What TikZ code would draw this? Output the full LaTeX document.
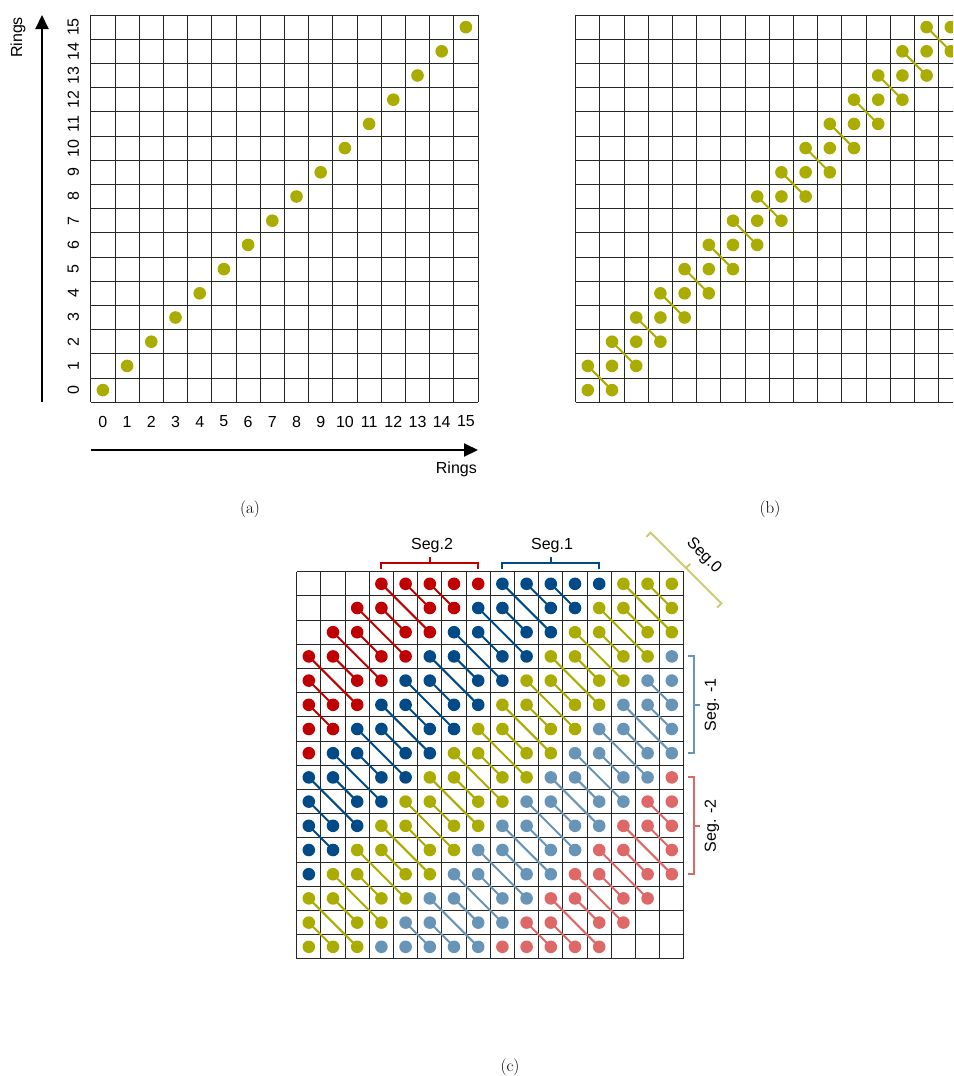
\documentclass[tikz,border=0pt]{standalone}
\usepackage{fontspec}
\newfontfamily\arial{Liberation Sans}
\usetikzlibrary{arrows.meta}
\definecolor{myolive}{RGB}{170,173,0}
\definecolor{sc0}{RGB}{192,0,0}
\definecolor{sc1}{RGB}{0,74,135}
\definecolor{sc2}{RGB}{170,173,0}
\definecolor{sc3}{RGB}{104,148,184}
\definecolor{sc4}{RGB}{222,104,104}
\definecolor{segzero}{RGB}{200,204,115}
\tikzset{
  gridline/.style={black!85, line width=1pt},
  link/.style={line width=2pt},
  axisarrow/.style={line width=2pt, -{Triangle[length=14pt,width=13pt]}},
  lab/.style={font=\arial\fontsize{16}{19}\selectfont, inner sep=0pt},
  brk/.style={line width=2pt},
  captext/.style={font=\fontsize{17}{20}\selectfont, inner sep=0pt}
}
\newcommand\cellgrid[2]{%
  \foreach \i in {0,...,16}{%
    \draw[gridline] ({#1+\i*24.2},#2) -- ({#1+\i*24.2},{#2+387.2});
    \draw[gridline] (#1,{#2+\i*24.2}) -- ({#1+387.2},{#2+\i*24.2});
  }}
\begin{document}
\begin{tikzpicture}[x=1pt,y=-1pt]
\useasboundingbox (0,0) rectangle (953,1076);
\clip (0,0) rectangle (953,1076);
\fill[white] (0,0) rectangle (953,1076);

% ---------------- panel (a)
\cellgrid{90.8}{15}
\foreach \i in {0,...,15}{
  \fill[myolive] ({90.8+(\i+0.5)*24.2},{402.2-(\i+0.5)*24.2}) circle (6.3);
  \node[lab] (xt\i) at ({90.8+(\i+0.5)*24.2},421.5) {\i};
  \node[lab,rotate=90] (yt\i) at (73.3,{402.2-(\i+0.5)*24.2}) {\i};
}
\coordinate (ya) at (42,402.2);
\coordinate (yb) at (42,15);
\draw[axisarrow] (ya) -- (yb);
\coordinate (xa) at (90.8,450);
\coordinate (xb) at (478,450);
\draw[axisarrow] (xa) -- (xb);
\node[lab,rotate=90] (ylab) at (18,37.5) {Rings};
\node[lab,anchor=east] (xlab) at (477,469) {Rings};
\node[captext] (capa) at (250,509) {(a)};

% ---------------- panel (b)
\cellgrid{575.7}{15}
\foreach \r in {1,...,15}{
  \pgfmathtruncatemacro\rprev{\r-1}
  \draw[link,myolive] ({575.7+(\rprev+0.5)*24.2},{402.2-(\r+0.5)*24.2}) -- ({575.7+(\r+0.5)*24.2},{402.2-(\rprev+0.5)*24.2});
}
\foreach \r in {0,...,15}{
  \foreach \dc in {-1,0,1}{
    \pgfmathtruncatemacro\cc{\r+\dc}
    \ifnum\cc>-1
      \fill[myolive] ({575.7+(\cc+0.5)*24.2},{402.2-(\r+0.5)*24.2}) circle (6.3);
    \fi
  }
}
\node[captext] (capb) at (770,509) {(b)};

% ---------------- panel (c)
\cellgrid{296.7}{571.7}
% links
\foreach \x in {0,...,15}{
  \foreach \y in {0,...,15}{
    \pgfmathtruncatemacro\dd{\x-\y}
    \pgfmathtruncatemacro\ad{abs(\dd)}
    \ifnum\ad<13
      \pgfmathtruncatemacro\mm{5*round(\dd/5)}
      \pgfmathtruncatemacro\kk{\dd-\mm}
      \pgfmathtruncatemacro\ci{\mm/5+2}
      \pgfmathsetmacro\px{296.7+(\x+0.5)*24.2}
      \pgfmathsetmacro\py{958.9-(\y+0.5)*24.2}
      \pgfmathtruncatemacro\inB{(\x<15)*(\y>0)}
      \pgfmathtruncatemacro\inBB{(\x<14)*(\y>1)}
      \pgfmathtruncatemacro\inA{(\x>0)*(\y<15)}
      \ifnum\kk=-2
        \ifnum\inBB=1
          \draw[link,sc\ci] (\px,\py) -- ++(48.4,48.4);
        \else
          \ifnum\inB=1
            \draw[link,sc\ci] (\px,\py) -- ++(24.2,24.2);
          \fi
        \fi
      \fi
      \ifnum\kk=-1
        \ifnum\inB=1
          \draw[link,sc\ci] (\px,\py) -- ++(24.2,24.2);
        \fi
      \fi
      \ifnum\kk=0
        \ifnum\inA=0
          \ifnum\inB=1
            \draw[link,sc\ci] (\px,\py) -- ++(24.2,24.2);
          \fi
        \fi
      \fi
    \fi
  }
}
% dots
\foreach \x in {0,...,15}{
  \foreach \y in {0,...,15}{
    \pgfmathtruncatemacro\dd{\x-\y}
    \pgfmathtruncatemacro\ad{abs(\dd)}
    \ifnum\ad<13
      \pgfmathtruncatemacro\mm{5*round(\dd/5)}
      \pgfmathtruncatemacro\kk{\dd-\mm}
      \pgfmathtruncatemacro\ci{\mm/5+2}
      \pgfmathsetmacro\px{296.7+(\x+0.5)*24.2}
      \pgfmathsetmacro\py{958.9-(\y+0.5)*24.2}
      \pgfmathtruncatemacro\hid{(\kk==0)*(\x>0)*(\y<15)*(\x<15)*(\y>0)}
      \ifnum\hid=0
        \fill[sc\ci] (\px,\py) circle (6.3);
      \fi
    \fi
  }
}
% brackets
\draw[brk,sc0] (381.4,568.5) -- (381.4,562.5) -- (478.2,562.5) -- (478.2,568.5);
\draw[brk,sc0] (429.8,562.5) -- (429.8,556.5);
\node[lab] (s2) at (432,545.5) {Seg.2};
\draw[brk,sc1] (502.4,568.5) -- (502.4,562.5) -- (599.2,562.5) -- (599.2,568.5);
\draw[brk,sc1] (550.8,562.5) -- (550.8,556.5);
\node[lab] (s1) at (552,545.5) {Seg.1};
\begin{scope}[shift={(686,568)},rotate=-45]
  \draw[brk,segzero] (-50,6) -- (-50,0) -- (50,0) -- (50,6);
  \draw[brk,segzero] (0,0) -- (0,-6);
  \node[lab,rotate=-45] (s0) at (4,-21) {Seg.0};
\end{scope}
\draw[brk,sc3] (688,656.4) -- (694,656.4) -- (694,753.2) -- (688,753.2);
\draw[brk,sc3] (694,704.8) -- (700,704.8);
\node[lab,rotate=90] (sm1) at (712,704.8) {Seg. -1};
\draw[brk,sc4] (688,777.4) -- (694,777.4) -- (694,874.2) -- (688,874.2);
\draw[brk,sc4] (694,825.8) -- (700,825.8);
\node[lab,rotate=90] (sm2) at (712,825.8) {Seg. -2};
\node[captext] (capc) at (510,1067) {(c)};
\end{tikzpicture}
\end{document}
